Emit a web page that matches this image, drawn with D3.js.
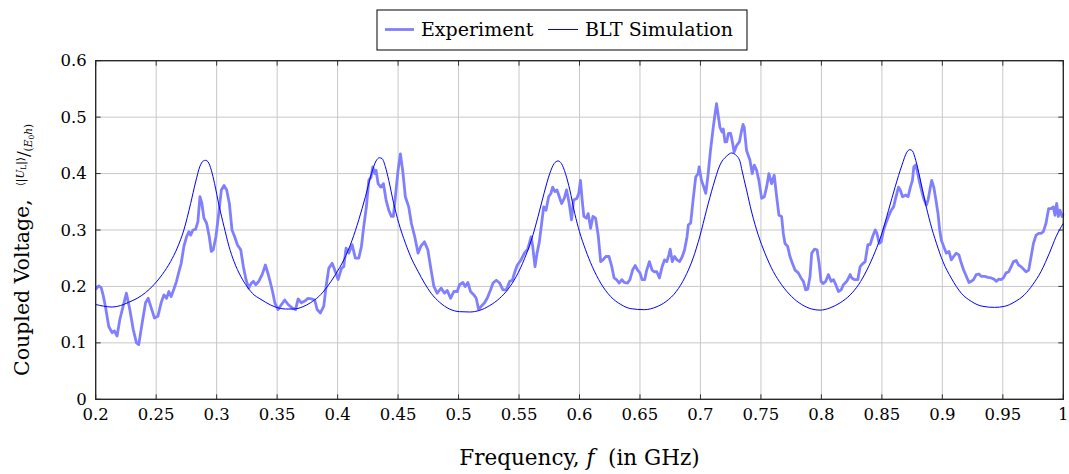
<!DOCTYPE html>
<html><head><meta charset="utf-8">
<script src="https://cdn.jsdelivr.net/npm/d3@7"></script>
<style>
body{margin:0;background:#fff;}
svg{display:block;font-family:"DejaVu Serif",serif;}
</style></head>
<body><svg id="c" width="1069" height="474"></svg>
<script>
const freqExp = [0.2,0.2025,0.2045,0.2061,0.208,0.2108,0.2135,0.2155,0.2177,0.2199,0.2227,0.2254,0.2282,0.231,0.2337,0.2356,0.2384,0.2412,0.2434,0.2459,0.2486,0.2514,0.2541,0.2564,0.2586,0.2605,0.2624,0.2646,0.2668,0.2688,0.2707,0.2729,0.2751,0.2771,0.2785,0.2804,0.2826,0.2845,0.2862,0.2878,0.2895,0.2917,0.2939,0.2956,0.2972,0.2994,0.3017,0.3039,0.3061,0.3083,0.3105,0.3127,0.3149,0.3171,0.3199,0.3221,0.3243,0.3265,0.3287,0.3304,0.3323,0.3348,0.3376,0.3403,0.3431,0.3459,0.3481,0.3508,0.3536,0.3563,0.3591,0.3624,0.3652,0.3674,0.3701,0.3729,0.3756,0.3784,0.3811,0.3831,0.3858,0.3886,0.3905,0.3927,0.3955,0.3982,0.4004,0.4032,0.4051,0.407,0.4092,0.412,0.4147,0.4175,0.4197,0.4216,0.4238,0.4258,0.4277,0.4291,0.4307,0.4318,0.4335,0.4357,0.4379,0.4401,0.4423,0.4445,0.4461,0.4478,0.45,0.4519,0.4538,0.456,0.4588,0.461,0.4638,0.4665,0.469,0.4718,0.4746,0.4773,0.4796,0.4823,0.4856,0.4884,0.4906,0.4934,0.4961,0.4989,0.5008,0.5036,0.5055,0.5077,0.5099,0.5127,0.5146,0.5166,0.5188,0.5215,0.5237,0.5265,0.5285,0.5312,0.534,0.5367,0.5395,0.5423,0.5445,0.5464,0.5486,0.5517,0.5544,0.5572,0.56,0.5613,0.5632,0.5649,0.5668,0.5687,0.5704,0.5723,0.5745,0.5764,0.5778,0.5797,0.5814,0.5833,0.5852,0.5874,0.5893,0.5915,0.5934,0.5951,0.5978,0.5994,0.6008,0.6022,0.6036,0.6056,0.6072,0.6092,0.6111,0.6133,0.6156,0.6175,0.6194,0.6217,0.6244,0.6267,0.6286,0.6306,0.6328,0.635,0.6369,0.6397,0.6417,0.6439,0.6461,0.6481,0.65,0.6517,0.6539,0.6556,0.6578,0.66,0.6619,0.6639,0.6661,0.6683,0.6703,0.6722,0.6739,0.675,0.6767,0.6786,0.6806,0.6828,0.685,0.6869,0.6889,0.69,0.6919,0.6939,0.6961,0.6981,0.6989,0.7008,0.7028,0.7044,0.7064,0.7083,0.7106,0.7119,0.7133,0.7147,0.7161,0.7178,0.7189,0.7203,0.7217,0.7231,0.725,0.7267,0.7278,0.73,0.7322,0.7342,0.7352,0.7362,0.7381,0.7409,0.7428,0.7445,0.7464,0.7483,0.7506,0.7528,0.7547,0.7566,0.7588,0.761,0.763,0.7649,0.7671,0.7685,0.7699,0.7721,0.774,0.776,0.7782,0.7809,0.7831,0.7851,0.787,0.7887,0.7906,0.792,0.7942,0.7964,0.7981,0.7997,0.8017,0.8036,0.8058,0.808,0.81,0.8119,0.8141,0.8163,0.8182,0.821,0.8238,0.8251,0.8273,0.8301,0.832,0.834,0.8362,0.8384,0.8403,0.8423,0.8445,0.8459,0.8478,0.8494,0.8514,0.8533,0.8555,0.8577,0.8597,0.861,0.8624,0.8638,0.8652,0.8671,0.8698,0.8717,0.8736,0.8753,0.8764,0.878,0.8791,0.8808,0.8827,0.8846,0.8868,0.8882,0.8901,0.8912,0.8929,0.8945,0.8964,0.8978,0.8992,0.9011,0.9033,0.9055,0.9074,0.9093,0.9115,0.9137,0.9157,0.9176,0.9198,0.922,0.9239,0.9258,0.928,0.9302,0.9321,0.9349,0.9376,0.9404,0.9426,0.9445,0.9467,0.9486,0.9505,0.9527,0.9549,0.9569,0.9588,0.961,0.9629,0.9651,0.967,0.9692,0.9714,0.9734,0.9753,0.9775,0.9797,0.9816,0.9835,0.9857,0.9879,0.9898,0.9918,0.9931,0.9945,0.9959,0.9973,0.9989,1.0];
const voltExp = [0.195,0.201,0.198,0.185,0.165,0.129,0.118,0.121,0.112,0.141,0.165,0.188,0.159,0.124,0.1,0.097,0.135,0.171,0.179,0.162,0.144,0.147,0.171,0.185,0.179,0.191,0.182,0.195,0.209,0.226,0.241,0.271,0.288,0.297,0.291,0.3,0.301,0.315,0.359,0.347,0.321,0.312,0.288,0.262,0.265,0.288,0.329,0.371,0.379,0.371,0.347,0.3,0.288,0.274,0.265,0.235,0.212,0.197,0.206,0.209,0.203,0.209,0.221,0.238,0.218,0.194,0.171,0.159,0.168,0.176,0.168,0.162,0.159,0.178,0.171,0.174,0.179,0.178,0.176,0.159,0.153,0.165,0.2,0.232,0.241,0.226,0.212,0.232,0.235,0.268,0.259,0.274,0.25,0.25,0.271,0.306,0.341,0.388,0.394,0.412,0.4,0.406,0.382,0.376,0.382,0.353,0.335,0.324,0.324,0.359,0.406,0.435,0.406,0.359,0.341,0.312,0.288,0.259,0.272,0.279,0.265,0.229,0.2,0.188,0.197,0.188,0.193,0.179,0.191,0.191,0.203,0.207,0.2,0.207,0.191,0.185,0.179,0.159,0.165,0.171,0.179,0.194,0.206,0.211,0.206,0.194,0.194,0.209,0.211,0.225,0.238,0.247,0.259,0.266,0.288,0.271,0.235,0.259,0.279,0.312,0.341,0.335,0.359,0.365,0.376,0.368,0.371,0.359,0.347,0.356,0.371,0.347,0.318,0.353,0.356,0.365,0.388,0.353,0.324,0.321,0.329,0.303,0.324,0.321,0.288,0.244,0.247,0.253,0.253,0.235,0.215,0.212,0.206,0.212,0.207,0.206,0.212,0.229,0.237,0.229,0.224,0.212,0.212,0.229,0.244,0.229,0.226,0.226,0.215,0.235,0.247,0.244,0.256,0.266,0.244,0.253,0.247,0.244,0.253,0.265,0.288,0.309,0.312,0.353,0.394,0.4,0.412,0.388,0.376,0.365,0.4,0.441,0.482,0.503,0.524,0.503,0.482,0.474,0.479,0.456,0.456,0.471,0.471,0.453,0.438,0.45,0.456,0.478,0.487,0.482,0.441,0.424,0.4,0.415,0.406,0.388,0.356,0.359,0.376,0.4,0.382,0.397,0.359,0.326,0.324,0.294,0.276,0.271,0.253,0.241,0.229,0.224,0.215,0.209,0.194,0.195,0.218,0.259,0.266,0.265,0.241,0.209,0.205,0.209,0.221,0.209,0.212,0.203,0.191,0.194,0.203,0.209,0.221,0.215,0.212,0.212,0.235,0.24,0.244,0.274,0.274,0.288,0.3,0.294,0.276,0.279,0.3,0.312,0.324,0.335,0.341,0.353,0.365,0.376,0.371,0.359,0.362,0.359,0.376,0.388,0.412,0.415,0.406,0.388,0.371,0.356,0.344,0.353,0.376,0.388,0.376,0.356,0.329,0.3,0.282,0.271,0.259,0.262,0.247,0.253,0.259,0.256,0.241,0.229,0.218,0.207,0.209,0.212,0.221,0.222,0.218,0.218,0.216,0.215,0.213,0.209,0.213,0.212,0.215,0.224,0.226,0.235,0.244,0.246,0.238,0.235,0.231,0.226,0.229,0.253,0.276,0.291,0.294,0.294,0.297,0.312,0.338,0.338,0.341,0.326,0.347,0.324,0.335,0.324,0.329];
const freqSim = [0.2,0.2066,0.2135,0.2204,0.2273,0.2343,0.2412,0.2481,0.255,0.2619,0.2674,0.2729,0.2785,0.2826,0.2862,0.289,0.2909,0.2928,0.2956,0.2983,0.3019,0.3061,0.3102,0.3144,0.3199,0.3254,0.3309,0.3351,0.3404,0.3486,0.3569,0.3638,0.3707,0.3775,0.3844,0.3913,0.3982,0.4051,0.412,0.4175,0.423,0.428,0.4318,0.4346,0.4368,0.4395,0.4423,0.4464,0.4506,0.4561,0.4616,0.4667,0.4718,0.4773,0.4843,0.4925,0.5008,0.5091,0.5174,0.5257,0.534,0.5409,0.5478,0.5547,0.5602,0.5657,0.5707,0.5754,0.579,0.5823,0.5851,0.5884,0.592,0.5961,0.6,0.605,0.6106,0.6175,0.6258,0.6342,0.6425,0.6536,0.6633,0.6717,0.68,0.6869,0.6939,0.6994,0.705,0.7106,0.7161,0.7217,0.7258,0.7286,0.7328,0.734,0.7381,0.7423,0.7478,0.7533,0.7602,0.7671,0.7754,0.7837,0.792,0.7989,0.8072,0.8155,0.8238,0.8307,0.8376,0.8445,0.85,0.8555,0.861,0.8666,0.8707,0.8731,0.8753,0.878,0.8813,0.8854,0.8901,0.8951,0.9005,0.9074,0.9157,0.9239,0.9335,0.9431,0.9514,0.9596,0.9679,0.9747,0.9816,0.9885,0.994,1.0];
const voltSim = [0.168,0.165,0.1635,0.166,0.172,0.179,0.189,0.203,0.221,0.244,0.268,0.3,0.347,0.385,0.413,0.4224,0.4235,0.421,0.406,0.382,0.344,0.306,0.271,0.244,0.218,0.199,0.185,0.179,0.172,0.1635,0.16,0.16,0.1635,0.171,0.182,0.199,0.221,0.247,0.282,0.318,0.359,0.4,0.4224,0.428,0.4265,0.412,0.388,0.347,0.312,0.2765,0.247,0.226,0.206,0.188,0.172,0.16,0.1553,0.1547,0.1576,0.166,0.179,0.195,0.218,0.25,0.282,0.3235,0.365,0.4,0.4176,0.4224,0.4176,0.4,0.371,0.329,0.297,0.265,0.235,0.206,0.182,0.168,0.1606,0.1588,0.1635,0.1735,0.191,0.215,0.25,0.288,0.335,0.379,0.415,0.431,0.4365,0.434,0.421,0.409,0.371,0.332,0.291,0.259,0.2265,0.203,0.182,0.168,0.16,0.158,0.162,0.171,0.185,0.203,0.229,0.262,0.294,0.335,0.3765,0.415,0.438,0.4424,0.44,0.4235,0.394,0.353,0.312,0.2765,0.244,0.2147,0.188,0.1735,0.1647,0.1629,0.1647,0.1724,0.1853,0.203,0.2265,0.259,0.288,0.312];
const xTicks = [0.2,0.25,0.3,0.35,0.4,0.45,0.5,0.55,0.6,0.65,0.7,0.75,0.8,0.85,0.9,0.95,1];
const xTickLabels = ["0.2","0.25","0.3","0.35","0.4","0.45","0.5","0.55","0.6","0.65","0.7","0.75","0.8","0.85","0.9","0.95","1"];
const yTicks = [0,0.1,0.2,0.3,0.4,0.5,0.6];
const yTickLabels = ["0","0.1","0.2","0.3","0.4","0.5","0.6"];
const seriesNames = ["Experiment","BLT Simulation"];

const svg = d3.select("#c");
const m = {left:95.7, right:1063.3, top:60.7, bottom:399.3};
const x = d3.scaleLinear().domain([0.2,1]).range([m.left,m.right]);
const y = d3.scaleLinear().domain([0,0.6]).range([m.bottom,m.top]);

// grid
const g = svg.append("g");
g.selectAll("line.vx").data(xTicks).join("line")
  .attr("x1",d=>x(d)).attr("x2",d=>x(d)).attr("y1",m.top).attr("y2",m.bottom)
  .attr("stroke","#c8c8c8").attr("stroke-width",1);
g.selectAll("line.hy").data(yTicks).join("line")
  .attr("y1",d=>y(d)).attr("y2",d=>y(d)).attr("x1",m.left).attr("x2",m.right)
  .attr("stroke","#c8c8c8").attr("stroke-width",1);

// ticks inside (all four sides)
const tl = 5;
const tk = svg.append("g").attr("stroke","#333").attr("stroke-width",1);
xTicks.forEach(d=>{
  tk.append("line").attr("x1",x(d)).attr("x2",x(d)).attr("y1",m.bottom).attr("y2",m.bottom-tl);
  tk.append("line").attr("x1",x(d)).attr("x2",x(d)).attr("y1",m.top).attr("y2",m.top+tl);
});
yTicks.forEach(d=>{
  tk.append("line").attr("y1",y(d)).attr("y2",y(d)).attr("x1",m.left).attr("x2",m.left+tl);
  tk.append("line").attr("y1",y(d)).attr("y2",y(d)).attr("x1",m.right).attr("x2",m.right-tl);
});

// lines
const expData = freqExp.map((f,i)=>[f,voltExp[i]]);
const simData = freqSim.map((f,i)=>[f,voltSim[i]]);
svg.append("path").datum(expData)
  .attr("d",d3.line().x(d=>x(d[0])).y(d=>y(d[1])))
  .attr("fill","none").attr("stroke","#8080ff").attr("stroke-width",2.8).attr("stroke-linejoin","round");
svg.append("path").datum(simData)
  .attr("d",d3.line().curve(d3.curveMonotoneX).x(d=>x(d[0])).y(d=>y(d[1])))
  .attr("fill","none").attr("stroke","#0000ff").attr("stroke-width",1);

// frame
svg.append("rect").attr("x",m.left).attr("y",m.top).attr("width",m.right-m.left).attr("height",m.bottom-m.top)
  .attr("fill","none").attr("stroke","#222").attr("stroke-width",1.3);

// tick labels
svg.append("g").selectAll("text").data(xTicks).join("text")
  .attr("x",d=>x(d)).attr("y",m.bottom+20.5).attr("text-anchor","middle")
  .attr("font-size",16.5).attr("fill","#000").text((d,i)=>xTickLabels[i]);
svg.append("g").selectAll("text").data(yTicks).join("text")
  .attr("x",m.left-9).attr("y",d=>y(d)+5.5).attr("text-anchor","end")
  .attr("font-size",16.5).attr("fill","#000").text((d,i)=>yTickLabels[i]);

// x label
const xl = svg.append("text").attr("x",(m.left+m.right)/2).attr("y",465).attr("text-anchor","middle")
  .attr("font-size",21.5).attr("fill","#000");
xl.append("tspan").text("Frequency, ");
xl.append("tspan").attr("font-style","italic").text("f");
xl.append("tspan").text("\u00a0 (in GHz)");

// y label
const yl = svg.append("text").attr("transform","translate(29,376) rotate(-90)")
  .attr("font-size",20.5).attr("fill","#000");
yl.append("tspan").text("Coupled Voltage,\u00a0 ");
yl.append("tspan").attr("font-size",10.5).attr("dy",-5).text("\u27e8|");
yl.append("tspan").attr("font-size",10.5).attr("font-style","italic").text("U");
yl.append("tspan").attr("font-size",7.5).attr("dy",2).text("L");
yl.append("tspan").attr("font-size",10.5).attr("dy",-2).text("|\u27e9");
yl.append("tspan").attr("font-size",17).attr("dy",5).text("/");
yl.append("tspan").attr("font-size",10.5).attr("dy",3).text("(");
yl.append("tspan").attr("font-size",10.5).attr("font-style","italic").text("E");
yl.append("tspan").attr("font-size",7.5).attr("dy",2).text("0");
yl.append("tspan").attr("font-size",10.5).attr("font-style","italic").attr("dy",-2).text("h");
yl.append("tspan").attr("font-size",10.5).text(")");

// legend
const lg = svg.append("g");
lg.append("rect").attr("x",377).attr("y",10).attr("width",370).attr("height",40)
  .attr("fill","#fff").attr("stroke","#000").attr("stroke-width",1);
lg.append("line").attr("x1",385).attr("x2",414).attr("y1",29.5).attr("y2",29.5).attr("stroke","#8080ff").attr("stroke-width",2.8);
lg.append("text").attr("x",421).attr("y",36).attr("font-size",19).text(seriesNames[0]);
lg.append("line").attr("x1",548).attr("x2",578).attr("y1",29.5).attr("y2",29.5).attr("stroke","#0000ff").attr("stroke-width",1);
lg.append("text").attr("x",585).attr("y",36).attr("font-size",19).text(seriesNames[1]);
</script></body></html>
